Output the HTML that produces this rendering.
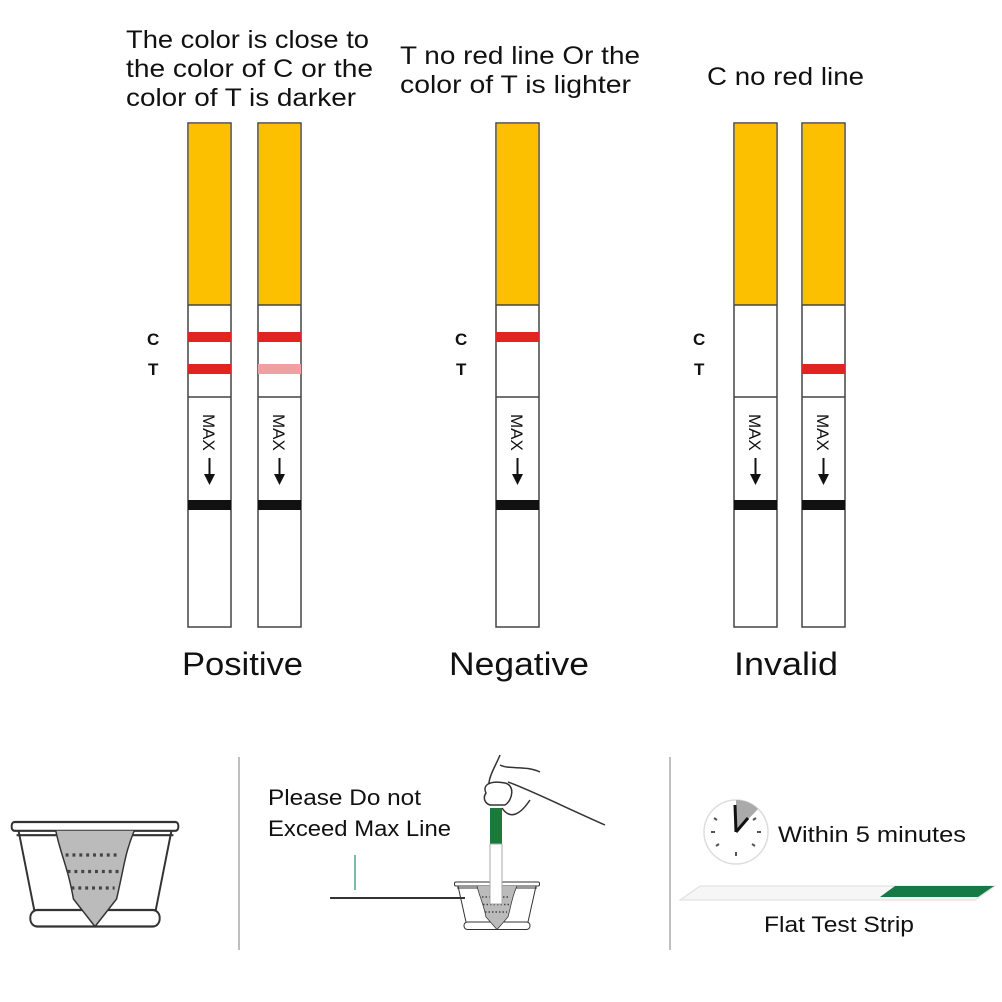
<!DOCTYPE html>
<html><head><style>
body{margin:0;background:#fff;}
svg{display:block;}
text{font-family:"Liberation Sans","DejaVu Sans",sans-serif;fill:#111;}
</style></head><body>
<svg width="1002" height="1002" viewBox="0 0 1002 1002" xmlns="http://www.w3.org/2000/svg">
<defs>
<g id="strip">
  <rect x="0" y="123" width="43" height="504" fill="#fff" stroke="#444" stroke-width="1.5"/>
  <rect x="0.75" y="123.75" width="41.5" height="181" fill="#fcc000"/>
  <line x1="0" y1="305" x2="43" y2="305" stroke="#444" stroke-width="1.5"/>
  <line x1="0" y1="397" x2="43" y2="397" stroke="#444" stroke-width="1.5"/>
  <rect x="0" y="500" width="43" height="10" fill="#111"/>
  <text transform="translate(15,414) rotate(90)" font-size="17">MAX</text>
  <line x1="21.5" y1="458" x2="21.5" y2="476" stroke="#111" stroke-width="2"/>
  <polygon points="16,474 27,474 21.5,485" fill="#111"/>
</g>
<g id="cup">
  <rect x="-85" y="0" width="170" height="8" rx="3" fill="#fff" stroke="#333" stroke-width="2"/>
  <line x1="-80" y1="12" x2="80" y2="12" stroke="#333" stroke-width="2"/>
  <path d="M-78,8 L-62,80 M78,8 L62,80" stroke="#333" stroke-width="2" fill="none"/>
  <rect x="-66" y="80" width="132" height="15" rx="7" fill="#fff" stroke="#333" stroke-width="2"/>
  <path d="M-40,8 C-35,30 -28,40 -22,70 L0,95 L22,70 C30,40 30,30 40,8" fill="#bbb" stroke="#333" stroke-width="1.5"/>
  <path d="M-30,30 L25,30 M-28,45 L24,45 M-24,60 L20,60" stroke="#444" stroke-width="3" stroke-dasharray="3 4"/>
</g>
</defs>

<text x="126" y="48" font-size="25" textLength="243" lengthAdjust="spacingAndGlyphs">The color is close to</text>
<text x="126" y="77" font-size="25" textLength="247" lengthAdjust="spacingAndGlyphs">the color of C or the</text>
<text x="126" y="106" font-size="25" textLength="230" lengthAdjust="spacingAndGlyphs">color of T is darker</text>
<text x="400" y="64" font-size="25" textLength="240" lengthAdjust="spacingAndGlyphs">T no red line Or the</text>
<text x="400" y="93" font-size="25" textLength="231" lengthAdjust="spacingAndGlyphs">color of T is lighter</text>
<text x="707" y="85" font-size="25" textLength="157" lengthAdjust="spacingAndGlyphs">C no red line</text>

<use href="#strip" x="188"/>
<use href="#strip" x="258"/>
<use href="#strip" x="496"/>
<use href="#strip" x="734"/>
<use href="#strip" x="802"/>

<rect x="188" y="332" width="43" height="10" fill="#e02424"/>
<rect x="188" y="364" width="43" height="10" fill="#e02424"/>
<rect x="258" y="332" width="43" height="10" fill="#e02424"/>
<rect x="258" y="364" width="43" height="10" fill="#f0a0a0"/>
<rect x="496" y="332" width="43" height="10" fill="#e02424"/>
<rect x="802" y="364" width="43" height="10" fill="#e02424"/>

<g font-size="17" font-weight="bold">
<text x="147" y="345">C</text><text x="148" y="375">T</text>
<text x="455" y="345">C</text><text x="456" y="375">T</text>
<text x="693" y="345">C</text><text x="694" y="375">T</text>
</g>

<text x="182" y="675" font-size="32" textLength="121" lengthAdjust="spacingAndGlyphs">Positive</text>
<text x="449" y="675" font-size="32" textLength="140" lengthAdjust="spacingAndGlyphs">Negative</text>
<text x="734" y="675" font-size="32" textLength="104" lengthAdjust="spacingAndGlyphs">Invalid</text>

<line x1="239" y1="757" x2="239" y2="950" stroke="#aaa" stroke-width="1.5"/>
<line x1="670" y1="757" x2="670" y2="950" stroke="#aaa" stroke-width="1.5"/>

<use href="#cup" transform="translate(95,822) scale(0.98,1.1)"/>
<use href="#cup" transform="translate(497,882) scale(0.5,0.5)"/>

<text x="268" y="805" font-size="22" textLength="153" lengthAdjust="spacingAndGlyphs">Please Do not</text>
<text x="268" y="836" font-size="22" textLength="183" lengthAdjust="spacingAndGlyphs">Exceed Max Line</text>
<line x1="355" y1="855" x2="355" y2="890" stroke="#2a8a6a" stroke-width="1.2"/>
<line x1="330" y1="898" x2="465" y2="898" stroke="#333" stroke-width="2"/>
<rect x="490" y="808" width="12" height="36" fill="#1a7a3a"/>
<rect x="490" y="844" width="12" height="60" fill="#fff" stroke="#aaa"/>
<path d="M490,795 C485,780 495,768 500,755 M500,765 C510,770 525,765 540,772 M508,782 C530,790 560,805 605,825 M502,808 C510,820 520,815 530,800" stroke="#333" stroke-width="1.5" fill="none"/>
<path d="M486,793 C482,785 490,780 505,783 C515,785 513,800 505,805 L490,805 C484,803 483,797 486,793Z" fill="#fff" stroke="#333" stroke-width="1.5"/>

<circle cx="736" cy="832" r="32" fill="#fff" stroke="#ddd" stroke-width="1.5"/>
<path d="M736,832 L736,800 A32,32 0 0,1 758,809 Z" fill="#aaa"/>
<g stroke="#555" stroke-width="2">
<line x1="714" y1="818" x2="717" y2="820"/><line x1="711" y1="832" x2="715" y2="832"/>
<line x1="716" y1="846" x2="719" y2="844"/><line x1="736" y1="856" x2="736" y2="852"/>
<line x1="755" y1="846" x2="752" y2="844"/><line x1="761" y1="832" x2="757" y2="832"/>
<line x1="756" y1="818" x2="753" y2="820"/>
</g>
<line x1="736" y1="832" x2="735" y2="805" stroke="#111" stroke-width="3"/>
<line x1="736" y1="832" x2="748" y2="818" stroke="#111" stroke-width="3"/>
<text x="778" y="842" font-size="22" textLength="188" lengthAdjust="spacingAndGlyphs">Within 5 minutes</text>
<polygon points="680,900 700,886 995,886 975,900" fill="#f6f6f6" stroke="#ddd"/>
<polygon points="880,897 895,886 994,886 978,897" fill="#157a45"/>
<text x="764" y="932" font-size="22" textLength="150" lengthAdjust="spacingAndGlyphs">Flat Test Strip</text>
</svg>
</body></html>
